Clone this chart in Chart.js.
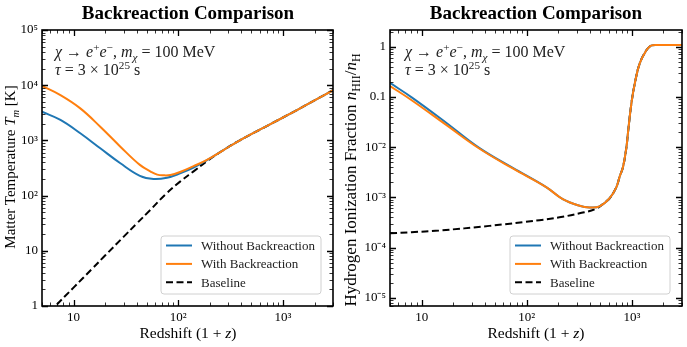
<!DOCTYPE html>
<html lang="en">
<head>
    <meta charset="UTF-8">
    <title>Backreaction Comparison</title>
    <script src="https://cdn.jsdelivr.net/npm/chart.js"></script>
    <style>
        body {
            margin: 0;
            background: #fff;
            font-family: 'Liberation Serif', serif;
        }
        #wrap {
            position: relative;
            width: 687px;
            height: 347px;
        }
        canvas {
            position: absolute;
            top: 0;
        }
        .txt {
            position: absolute;
            white-space: nowrap;
            color: #000;
        }
        .title {
            font-weight: bold;
            font-size: 19px;
            text-align: center;
            height: 26px;
            line-height: 26px;
            top: 0;
            width: 292px;
        }
        .xtitle {
            font-size: 15.5px;
            text-align: center;
            height: 20px;
            line-height: 20px;
            top: 323px;
            width: 292px;
        }
        .ytitle {
            font-size: 15px;
            text-align: center;
            width: 320px;
            height: 20px;
            line-height: 20px;
            transform: rotate(-90deg);
        }
        .note {
            font-size: 16px;
            line-height: 18.3px;
            color: #222;
        }
        sup, sub {
            font-size: 70%;
            line-height: 0;
        }
    </style>
</head>
<body>
<div id="wrap">
    <canvas id="tempChart" width="343" height="347" style="left:0"></canvas>
    <canvas id="ionChart" width="344" height="347" style="left:343px"></canvas>

    <div class="txt title" style="left:42px">Backreaction Comparison</div>
    <div class="txt title" style="left:390px">Backreaction Comparison</div>

    <div class="txt xtitle" style="left:42px">Redshift (1 + <i>z</i>)</div>
    <div class="txt xtitle" style="left:390px">Redshift (1 + <i>z</i>)</div>

    <div class="txt ytitle" style="left:-150px;top:156.5px">Matter Temperature <i>T<sub>m</sub></i> [K]</div>
    <div class="txt ytitle" style="left:190.5px;top:169.5px;font-size:17px">Hydrogen Ionization Fraction <i>n</i><sub>HII</sub>/<i>n</i><sub>H</sub></div>

    <div class="txt note" style="left:55px;top:42.6px"><i>χ</i> → <i>e</i><sup>+</sup><i>e</i><sup>−</sup>, <i>m<sub>χ</sub></i> = 100 MeV<br><i>τ</i> = 3 × 10<sup>25</sup> s</div>
    <div class="txt note" style="left:405px;top:42.6px"><i>χ</i> → <i>e</i><sup>+</sup><i>e</i><sup>−</sup>, <i>m<sub>χ</sub></i> = 100 MeV<br><i>τ</i> = 3 × 10<sup>25</sup> s</div>
</div>

<script>
    // axis ticks
    const zTicks = [10, 100, 1000];
    const zTickLabels = ['10', '10²', '10³'];
    const tempTicks = [1, 10, 100, 1000, 1e4, 1e5];
    const tempTickLabels = ['1', '10', '10²', '10³', '10⁴', '10⁵'];
    const ionTicks = [1e-5, 1e-4, 1e-3, 1e-2, 0.1, 1];
    const ionTickLabels = ['10⁻⁵', '10⁻⁴', '10⁻³', '10⁻²', '0.1', '1'];

    const seriesNames = ['Without Backreaction', 'With Backreaction', 'Baseline'];

    // left panel: matter temperature [K]
    const tempNoBackZ = [5, 7.5, 11.6, 18, 28, 43, 58, 78, 104, 140, 188, 270, 391, 600, 1000, 1360, 2000, 3000];
    const tempNoBackT = [3300, 2350, 1345, 719, 385, 228, 200, 211, 253, 322, 440, 668, 1016, 1560, 2600, 3550, 5330, 8100];

    const tempBackZ = [5, 7.5, 11.6, 18, 28, 43, 55, 63, 72, 84, 104, 140, 188, 270, 391, 600, 1000, 1360, 2000, 3000];
    const tempBackT = [9700, 6600, 3800, 1770, 770, 360, 270, 240, 233, 236, 268, 342, 442, 668, 1016, 1560, 2600, 3550, 5330, 8100];

    const tempBaseZ = [5, 6.7, 10, 15, 20, 30, 40, 54, 75, 104, 140, 188, 270, 391, 600, 1000, 1360, 2000, 3000];
    const tempBaseT = [0.57, 1, 2.15, 4.7, 8.2, 17.9, 31, 55, 104, 179, 275, 420, 668, 1016, 1560, 2600, 3550, 5330, 8100];

    // right panel: ionization fraction
    const ionZ = [5, 8.1, 17, 35, 73, 153, 220, 318, 396, 493, 615, 713, 766, 824, 888, 920, 990, 1067, 1190, 1380, 1490, 1585, 1700, 2000, 3000];
    const ionNoBack = [0.19, 0.097, 0.031, 0.0098, 0.0039, 0.0016, 0.00092, 0.00068, 0.00063, 0.00066, 0.00096, 0.0016, 0.0026, 0.004, 0.01, 0.02, 0.074, 0.186, 0.47, 0.86, 1.02, 1.07, 1.08, 1.08, 1.08];
    const ionBack = [0.165, 0.085, 0.028, 0.0095, 0.0038, 0.0016, 0.00092, 0.00068, 0.00063, 0.00066, 0.00096, 0.0016, 0.0026, 0.004, 0.01, 0.02, 0.074, 0.186, 0.47, 0.86, 1.02, 1.07, 1.08, 1.08, 1.08];

    const ionBaseZ = [5, 8, 14.6, 44, 132, 205, 318, 456, 571, 615, 713, 766, 824, 888, 920, 990, 1067, 1190, 1380, 1490, 1585, 1700, 2000, 3000];
    const ionBase = [1.92e-4, 2.02e-4, 2.18e-4, 2.7e-4, 3.5e-4, 4.0e-4, 4.8e-4, 5.9e-4, 8.3e-4, 0.00095, 0.0016, 0.0026, 0.004, 0.01, 0.02, 0.074, 0.186, 0.47, 0.86, 1.02, 1.07, 1.08, 1.08, 1.08];

    const SERIF = "'Liberation Serif', serif";
    const pts = (xs, ys) => xs.map((x, i) => ({x: x, y: ys[i]}));

    function makeSets(a, b, c) {
        return [
            {label: seriesNames[0], data: a, borderColor: '#1f77b4', borderWidth: 2, order: 1},
            {label: seriesNames[1], data: b, borderColor: '#ff7f0e', borderWidth: 2, order: 0},
            {label: seriesNames[2], data: c, borderColor: '#000', borderWidth: 2, borderDash: [7, 3.5], order: 2}
        ];
    }

    // inward major/minor ticks on all four sides + frame
    const frameTicks = {
        id: 'frameTicks',
        afterDatasetsDraw(chart) {
            const {ctx, chartArea: a} = chart;
            ctx.save();
            ctx.strokeStyle = '#000';
            const axis = (scale, horiz) => {
                const lo = Math.floor(Math.log10(scale.min)), hi = Math.ceil(Math.log10(scale.max));
                for (let d = lo; d <= hi; d++) {
                    for (let k = 1; k <= 9; k++) {
                        const v = k * Math.pow(10, d);
                        if (v < scale.min || v > scale.max) continue;
                        const p = Math.round(scale.getPixelForValue(v)) + 0.5;
                        const len = k === 1 ? 6 : 3.5;
                        ctx.lineWidth = k === 1 ? 1.3 : 0.8;
                        ctx.beginPath();
                        if (horiz) {
                            ctx.moveTo(p, a.bottom); ctx.lineTo(p, a.bottom - len);
                            ctx.moveTo(p, a.top); ctx.lineTo(p, a.top + len);
                        } else {
                            ctx.moveTo(a.left, p); ctx.lineTo(a.left + len, p);
                            ctx.moveTo(a.right, p); ctx.lineTo(a.right - len, p);
                        }
                        ctx.stroke();
                    }
                }
            };
            axis(chart.scales.x, true);
            axis(chart.scales.y, false);
            ctx.lineWidth = 1.6;
            ctx.strokeRect(a.left, a.top, a.width, a.height);
            ctx.restore();
        }
    };

    // legend box in the lower right of the plot area
    const boxLegend = {
        id: 'boxLegend',
        afterDraw(chart) {
            const {ctx, chartArea: a} = chart;
            const w = 160, h = 58;
            const x0 = a.right - 12 - w, y0 = a.bottom - 12 - h;
            ctx.save();
            ctx.beginPath();
            ctx.roundRect(x0, y0, w, h, 3);
            ctx.fillStyle = 'rgba(255,255,255,0.85)';
            ctx.fill();
            ctx.lineWidth = 1;
            ctx.strokeStyle = '#d0d0d0';
            ctx.stroke();
            ctx.font = '13px ' + SERIF;
            ctx.textBaseline = 'middle';
            chart.data.datasets.forEach((ds, i) => {
                const y = y0 + 9.5 + i * 18.4;
                ctx.beginPath();
                ctx.setLineDash(ds.borderDash || []);
                ctx.strokeStyle = ds.borderColor;
                ctx.lineWidth = 2;
                ctx.moveTo(x0 + 5, y);
                ctx.lineTo(x0 + 31, y);
                ctx.stroke();
                ctx.setLineDash([]);
                ctx.fillStyle = '#222';
                ctx.fillText(ds.label, x0 + 40, y + 1);
            });
            ctx.restore();
        }
    };

    function logAxis(min, max, tickVals, tickLabels, horiz, size) {
        return {
            type: 'logarithmic',
            min: min,
            max: max,
            grid: {display: false, drawTicks: false},
            border: {display: false},
            ticks: {
                autoSkip: false,
                maxRotation: 0,
                padding: 4,
                color: '#000',
                font: {family: SERIF, size: 13},
                callback: v => {
                    const i = tickVals.findIndex(t => Math.abs(t - v) / t < 1e-6);
                    return i >= 0 ? tickLabels[i] : '';
                }
            },
            afterBuildTicks: s => { s.ticks = tickVals.map(v => ({value: v})); },
            afterFit: s => { if (horiz) s.height = size; else s.width = size; }
        };
    }

    function makeChart(id, sets, yMin, yMax, yTicks, yLabels, yWidth, padRight) {
        return new Chart(document.getElementById(id), {
            type: 'line',
            data: {datasets: sets},
            options: {
                responsive: false,
                animation: false,
                elements: {point: {radius: 0}, line: {tension: 0.4}},
                layout: {padding: {top: 30, right: padRight, left: 0, bottom: 0}},
                plugins: {legend: {display: false}, tooltip: {enabled: false}, title: {display: false}},
                scales: {
                    x: logAxis(5, 3000, zTicks, zTickLabels, true, 41),
                    y: logAxis(yMin, yMax, yTicks, yLabels, false, yWidth)
                }
            },
            plugins: [frameTicks, boxLegend]
        });
    }

    makeChart('tempChart',
        makeSets(pts(tempNoBackZ, tempNoBackT), pts(tempBackZ, tempBackT), pts(tempBaseZ, tempBaseT)),
        1, 1e5, tempTicks, tempTickLabels, 42, 10);

    makeChart('ionChart',
        makeSets(pts(ionZ, ionNoBack), pts(ionZ, ionBack), pts(ionBaseZ, ionBase)),
        6.85e-6, 2.15, ionTicks, ionTickLabels, 47, 5);
</script>
</body>
</html>
